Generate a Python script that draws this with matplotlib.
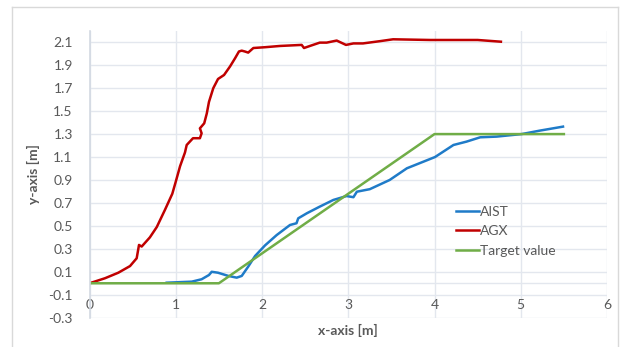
import matplotlib.pyplot as plt
from matplotlib.lines import Line2D

plt.rcParams['font.family'] = ['Lato', 'DejaVu Sans']

# AIST measured path
aist_x = [0.895, 1.185, 1.30, 1.385, 1.417, 1.49, 1.61, 1.707, 1.765, 1.84, 1.92,
          2.035, 2.17, 2.325, 2.40, 2.42, 2.52, 2.67, 2.827, 2.98, 3.06, 3.10,
          3.25, 3.48, 3.68, 4.006, 4.22, 4.37, 4.53, 4.72, 5.01, 5.22, 5.49]
aist_y = [0.005, 0.014, 0.035, 0.072, 0.10, 0.092, 0.064, 0.049, 0.064, 0.145, 0.238,
          0.33, 0.42, 0.508, 0.523, 0.566, 0.61, 0.668, 0.726, 0.76, 0.75, 0.798,
          0.82, 0.90, 1.002, 1.10, 1.205, 1.234, 1.272, 1.278, 1.30, 1.33, 1.365]

# AGX measured path
agx_x = [0.0, 0.18, 0.334, 0.47, 0.547, 0.574, 0.605, 0.70, 0.78, 0.875, 0.96, 1.0,
         1.05, 1.107, 1.127, 1.20, 1.28, 1.30, 1.28, 1.33, 1.36, 1.385, 1.435, 1.49,
         1.56, 1.63, 1.687, 1.733, 1.765, 1.80, 1.84, 1.90, 2.035, 2.21, 2.46, 2.487,
         2.556, 2.67, 2.75, 2.866, 2.974, 3.06, 3.17, 3.37, 3.52, 3.95, 4.50, 4.77]
agx_y = [0.0, 0.044, 0.092, 0.15, 0.218, 0.334, 0.32, 0.40, 0.49, 0.64, 0.78, 0.885,
         1.02, 1.14, 1.205, 1.264, 1.264, 1.307, 1.35, 1.394, 1.48, 1.58, 1.70, 1.78,
         1.815, 1.89, 1.96, 2.02, 2.027, 2.02, 2.01, 2.05, 2.057, 2.068, 2.077, 2.05,
         2.068, 2.097, 2.097, 2.115, 2.077, 2.09, 2.09, 2.11, 2.126, 2.12, 2.12, 2.105]

# target path
target_x = [0, 1.5, 4, 5.5]
target_y = [0, 0, 1.3, 1.3]

x_ticks = [0, 1, 2, 3, 4, 5, 6]
y_ticks = [-0.3, -0.1, 0.1, 0.3, 0.5, 0.7, 0.9, 1.1, 1.3, 1.5, 1.7, 1.9, 2.1]

txt = '#595959'
grid = '#E3E7EE'

fig = plt.figure(figsize=(6.2, 3.47), dpi=100)
ax = fig.add_axes([89.5 / 620, 1 - 317.7 / 347, (607 - 89.5) / 620, (317.7 - 30.8) / 347])

ax.plot(aist_x, aist_y, color='#1F7BC8', lw=1.8, label='AIST')
ax.plot(agx_x, agx_y, color='#C00000', lw=1.8, label='AGX')
ax.plot(target_x, target_y, color='#70AD47', lw=1.8, label='Target value')

ax.set_xlim(0, 6)
ax.set_ylim(-0.3, 2.2)
ax.set_xticks(x_ticks)
ax.set_xticklabels([str(v) for v in x_ticks])
ax.set_yticks(y_ticks)
ax.set_yticklabels([f'{v:.1f}' for v in y_ticks])
ax.grid(True, color=grid, lw=1)
ax.set_axisbelow(True)
ax.axhline(0, color=grid, lw=1, zorder=0.5)

for s in ['top', 'right']:
    ax.spines[s].set_visible(False)
ax.spines['left'].set_color('#D3D9E2')
ax.spines['left'].set_linewidth(1.2)
ax.spines['bottom'].set_position(('data', 0))
ax.spines['bottom'].set_visible(False)
ax.tick_params(length=0, labelsize=10, colors=txt)
ax.tick_params(axis='x', pad=11)
ax.tick_params(axis='y', pad=12)

fig.text(348 / 620, 1 - 330 / 347, 'x-axis [m]', ha='center', va='center',
         fontsize=10, fontweight='bold', color=txt)
fig.text(33 / 620, 1 - 174 / 347, 'y-axis [m]', ha='center', va='center',
         rotation=90, fontsize=10, fontweight='bold', color=txt)

ax.legend(loc='upper left', bbox_to_anchor=(443 / 620, 1 - 193 / 347),
          bbox_transform=fig.transFigure, frameon=False, fontsize=10,
          handlelength=1.7, handletextpad=0.05, labelspacing=0.55, labelcolor=txt)

# chart border
for xs, ys in [([12, 12], [7, 347]), ([12, 618], [7, 7]), ([618, 618], [7, 347])]:
    fig.add_artist(Line2D([v / 620 for v in xs], [1 - v / 347 for v in ys],
                          color='#D9D9D9', lw=1))

fig.savefig('out.png', dpi=100)
